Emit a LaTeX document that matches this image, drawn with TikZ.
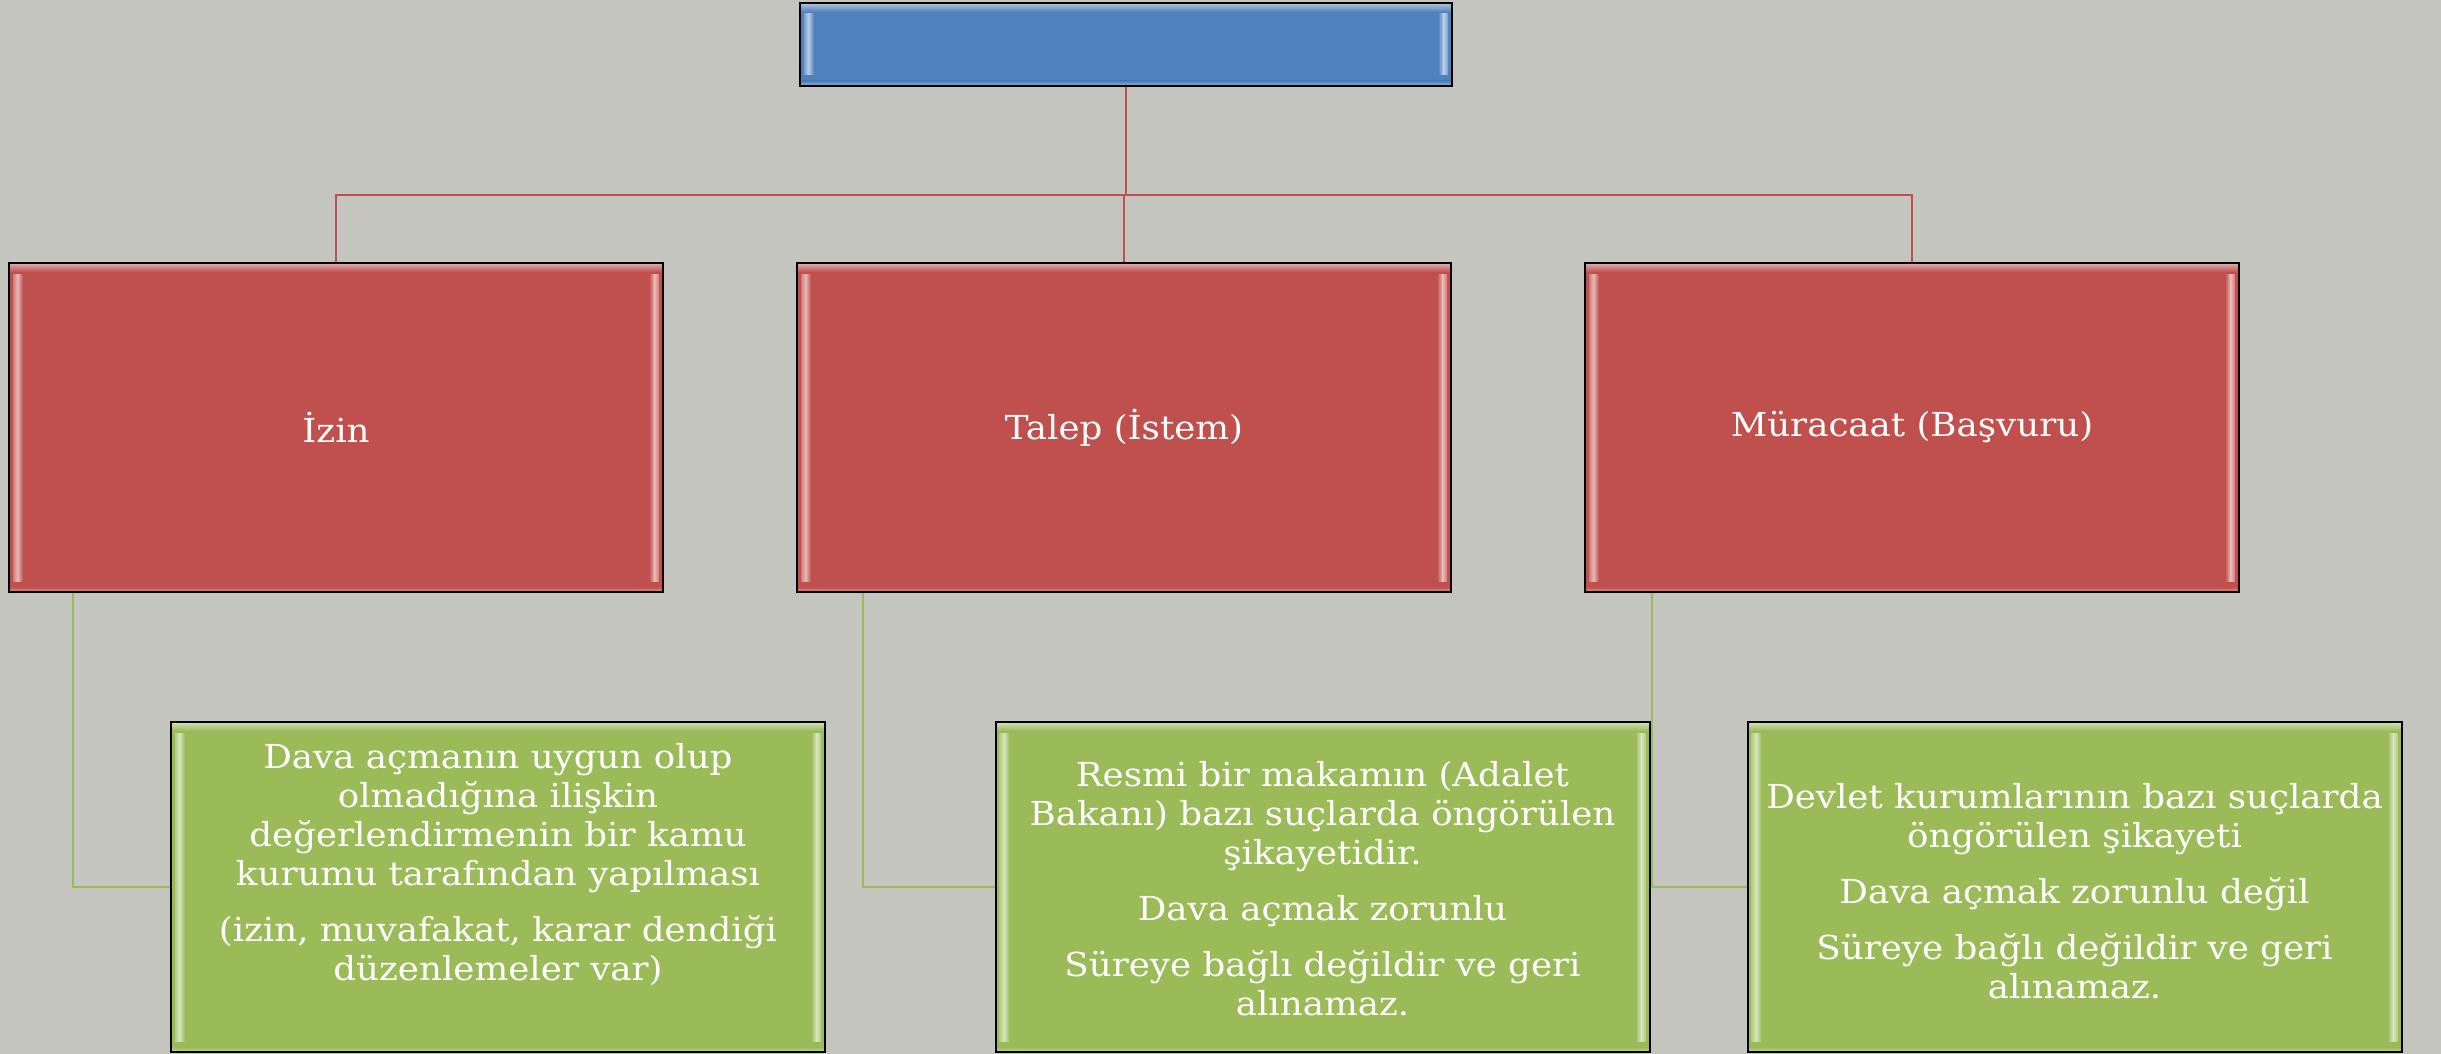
\documentclass[tikz,border=0pt]{standalone}
\usepackage{fontspec}
\setmainfont{DejaVu Serif}[FakeStretch=1.08]
\definecolor{bgcol}{RGB}{197,197,191}
\definecolor{mblue}{RGB}{79,129,189}
\definecolor{mred}{RGB}{192,80,77}
\definecolor{mgreen}{RGB}{155,187,89}
\tikzset{
  bevel/.style={path picture={
    \path (path picture bounding box.north west) coordinate (@nw)
          (path picture bounding box.south east) coordinate (@se);
    \shade[top color=#1!45!white, bottom color=#1] (@nw) rectangle ([yshift=-9pt]@nw -| @se);
    \shade[top color=#1, bottom color=#1!60!white] ([yshift=5pt]@nw |- @se) rectangle (@se);
    \shade[left color=#1!75!white, right color=#1!35!white] ([xshift=4pt,yshift=-11pt]@nw) rectangle ([xshift=9pt,yshift=11pt]@nw |- @se);
    \shade[left color=#1!45!white, right color=#1] ([xshift=9pt,yshift=-11pt]@nw) rectangle ([xshift=14pt,yshift=11pt]@nw |- @se);
    \shade[left color=#1!35!white, right color=#1!75!white] ([xshift=-9pt,yshift=-11pt]@se |- @nw) rectangle ([xshift=-4pt,yshift=11pt]@se);
    \shade[left color=#1, right color=#1!45!white] ([xshift=-14pt,yshift=-11pt]@se |- @nw) rectangle ([xshift=-9pt,yshift=11pt]@se);
  }},
  box/.style={draw=black, line width=2pt, fill=#1, bevel=#1, rectangle, inner sep=0pt,
    text=white, align=center, font=\fontsize{33}{39}\selectfont},
  topbox/.style={box=mblue, minimum width=652pt, minimum height=83pt},
  redbox/.style={box=mred, minimum width=654pt, minimum height=329pt},
  greenbox/.style={box=mgreen, minimum width=654pt, minimum height=330pt},
  gtext/.style={text=white, align=center, inner sep=0pt, font=\fontsize{33}{39}\selectfont},
  redline/.style={draw=mred, line width=2pt},
  greenline/.style={draw=mgreen, line width=2pt},
}
\begin{document}
\begin{tikzpicture}[x=1pt,y=-1pt]
\useasboundingbox (0,0) rectangle (2441,1054);
\fill[bgcol] (0,0) rectangle (2441,1054);

\node[topbox] (top) at (1126,44.5) {};

\node[redbox] (r1) at (336,427.5) {İzin};
\node[redbox] (r2) at (1124,427.5) {Talep (İstem)};
\node[redbox] (r3) at (1912,427.5) {Müracaat (Başvuru)};

\node[greenbox] (g1) at (498,887) {};
\node[greenbox] (g2) at (1322.5,887) {};
\node[greenbox] (g3) at (2074.5,887) {};

\node[gtext] (g1t) at ([yshift=22pt]g1.center) {Dava açmanın uygun olup\\ olmadığına ilişkin\\ değerlendirmenin bir kamu\\ kurumu tarafından yapılması\\[17pt] (izin, muvafakat, karar dendiği\\ düzenlemeler var)};
\node[gtext] (g2t) at ([yshift=-2pt]g2.center) {Resmi bir makamın (Adalet\\ Bakanı) bazı suçlarda öngörülen\\ şikayetidir.\\[17pt] Dava açmak zorunlu\\[17pt] Süreye bağlı değildir ve geri\\ alınamaz.};
\node[gtext] (g3t) at ([yshift=-4pt]g3.center) {Devlet kurumlarının bazı suçlarda\\ öngörülen şikayeti\\[17pt] Dava açmak zorunlu değil\\[17pt] Süreye bağlı değildir ve geri\\ alınamaz.};

\coordinate (bus) at (1124,195);
\draw[redline] (top.south) -- (top.south |- bus);
\draw[redline] (r1.north) |- (bus) -| (r3.north);
\draw[redline] (r2.north) -- (r2.north |- bus);

\draw[greenline] ([xshift=65pt]r1.south west) |- (g1.west);
\draw[greenline] ([xshift=67pt]r2.south west) |- (g2.west);
\draw[greenline] ([xshift=68pt]r3.south west) |- (g3.west);
\end{tikzpicture}
\end{document}
